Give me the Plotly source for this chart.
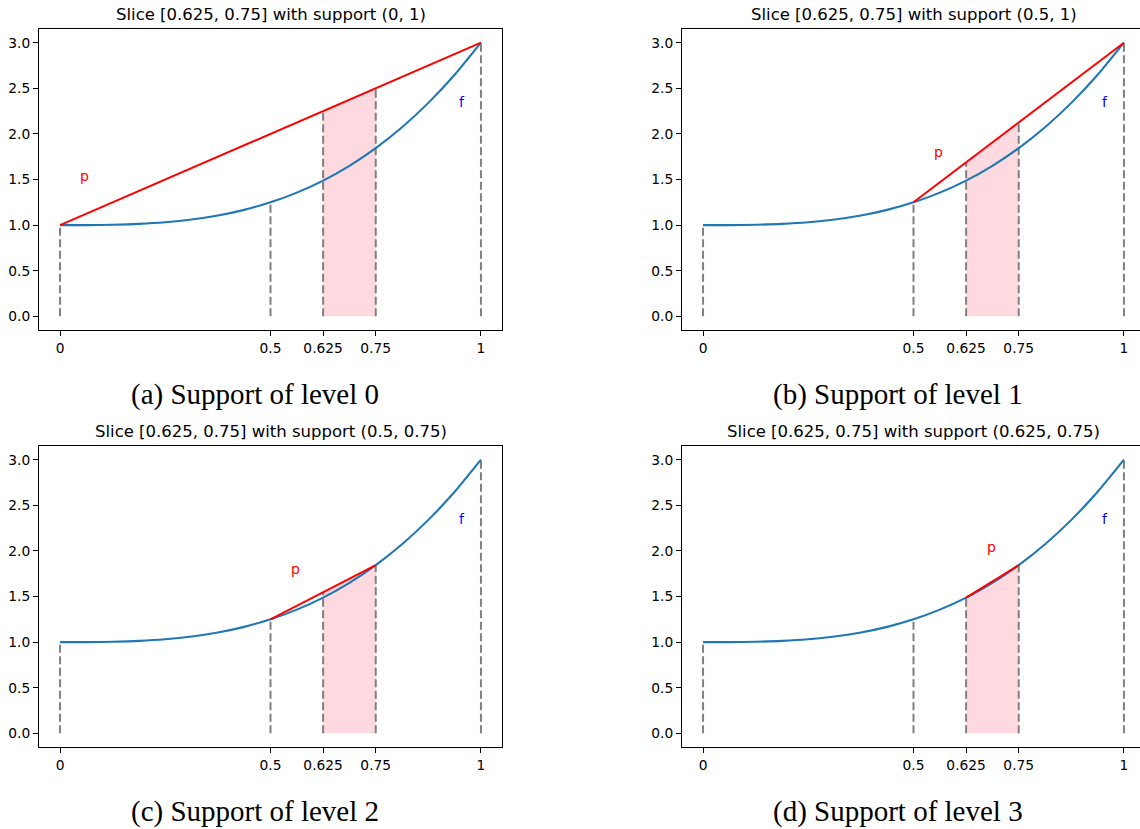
import plotly.graph_objects as go

W, H = 1140, 829

# sampled values of f on [0, 1]
knot_x = [0, 0.0625, 0.125, 0.1875, 0.25, 0.3125, 0.375, 0.4375, 0.5,
          0.5625, 0.625, 0.6875, 0.75, 0.8125, 0.875, 0.9375, 1]
f_vals = [1.000, 1.000, 1.004, 1.013, 1.031, 1.061, 1.105, 1.167, 1.250,
          1.356, 1.488, 1.650, 1.844, 2.073, 2.340, 2.648, 3.000]

# x ticks / marks
mark_x = [0, 0.5, 0.625, 0.75, 1]
mark_text = ["0", "0.5", "0.625", "0.75", "1"]
y_ticks = [0, 0.5, 1.0, 1.5, 2.0, 2.5, 3.0]

# the slice and the supports used at each level
slice_lo, slice_hi = 0.625, 0.75
supports = [(0, 1), (0.5, 1), (0.5, 0.75), (0.625, 0.75)]
support_f = [(1.0, 3.0), (1.25, 3.0), (1.25, 1.844), (1.488, 1.844)]
p_on_slice = [(2.25, 2.5), (1.6875, 2.125), (1.547, 1.844), (1.488, 1.844)]
f_on_marks = [1.0, 1.25, 3.0]  # f at 0, 0.5, 1

titles = ["Slice [0.625, 0.75] with support (0, 1)",
          "Slice [0.625, 0.75] with support (0.5, 1)",
          "Slice [0.625, 0.75] with support (0.5, 0.75)",
          "Slice [0.625, 0.75] with support (0.625, 0.75)"]
captions = ["(a) Support of level 0", "(b) Support of level 1",
            "(c) Support of level 2", "(d) Support of level 3"]
p_label_pos = [(0.059, 1.54), (0.56, 1.80), (0.56, 1.80), (0.686, 2.04)]
f_label_pos = (0.955, 2.35)

# panel boxes in pixels: (left, right, top, bottom)
boxes = [(39, 502, 29, 330), (682, 1145, 29, 330),
         (39, 502, 446, 747), (682, 1145, 446, 747)]
X_RANGE = (-0.05, 1.05)
Y_RANGE = (-0.15, 3.15)

fig = go.Figure()
layout = {}
annotations = []

for i in range(4):
    n = i + 1
    xa = "x" if n == 1 else f"x{n}"
    ya = "y" if n == 1 else f"y{n}"
    left, right, top, bottom = boxes[i]
    px_per_unit = (right - left) / (X_RANGE[1] - X_RANGE[0])
    vis_right = min(right, W)
    x_hi = X_RANGE[0] + (vis_right - left) / px_per_unit

    # shaded slice under p
    fig.add_trace(go.Scatter(
        x=[slice_lo, slice_hi], y=list(p_on_slice[i]), mode="none",
        fill="tozeroy", fillcolor="rgba(255,192,203,0.6)",
        xaxis=xa, yaxis=ya, hoverinfo="skip", showlegend=False))

    # dashed verticals at the marks
    heights = [f_on_marks[0], f_on_marks[1], p_on_slice[i][0],
               p_on_slice[i][1], f_on_marks[2]]
    dx, dy = [], []
    for xv, hv in zip(mark_x, heights):
        dx += [xv, xv, None]
        dy += [0, hv, None]
    fig.add_trace(go.Scatter(
        x=dx, y=dy, mode="lines",
        line=dict(color="gray", width=2, dash="8px,3.5px"),
        xaxis=xa, yaxis=ya, hoverinfo="skip", showlegend=False))

    # f
    fig.add_trace(go.Scatter(
        x=knot_x, y=f_vals, mode="lines",
        line=dict(color="#1f77b4", width=2.1, shape="spline", smoothing=0.6),
        xaxis=xa, yaxis=ya, showlegend=False))

    # p: secant over the support
    fig.add_trace(go.Scatter(
        x=list(supports[i]), y=list(support_f[i]), mode="lines",
        line=dict(color="red", width=2),
        xaxis=xa, yaxis=ya, showlegend=False))

    annotations.append(dict(x=p_label_pos[i][0], y=p_label_pos[i][1],
                            xref=xa, yref=ya, text="p", showarrow=False,
                            font=dict(color="red", size=14, family="DejaVu Sans"),
                            xanchor="center", yanchor="middle"))
    annotations.append(dict(x=f_label_pos[0], y=f_label_pos[1],
                            xref=xa, yref=ya, text="f", showarrow=False,
                            font=dict(color="blue", size=14, family="DejaVu Sans"),
                            xanchor="center", yanchor="middle"))

    # panel title and caption
    cx = (left + right) / 2
    annotations.append(dict(x=cx / W, y=1 - (top - 15) / H, xref="paper", yref="paper",
                            text=titles[i], showarrow=False,
                            font=dict(size=16.5, family="DejaVu Sans", color="black"),
                            xanchor="center", yanchor="middle"))
    annotations.append(dict(x=(cx - 15.5) / W, y=1 - (bottom + 64) / H,
                            xref="paper", yref="paper",
                            text=captions[i], showarrow=False,
                            font=dict(size=29, family="Liberation Serif", color="black"),
                            xanchor="center", yanchor="middle"))

    layout["xaxis" if n == 1 else f"xaxis{n}"] = dict(
        domain=[left / W, vis_right / W], anchor=ya,
        range=[X_RANGE[0], x_hi], tickvals=mark_x, ticktext=mark_text,
        showgrid=False, zeroline=False, showline=True, mirror=True,
        linecolor="black", linewidth=1, ticks="outside", ticklen=5,
        tickwidth=1, tickcolor="black",
        tickfont=dict(size=13.8, family="DejaVu Sans", color="black"))
    layout["yaxis" if n == 1 else f"yaxis{n}"] = dict(
        domain=[1 - bottom / H, 1 - top / H], anchor=xa,
        range=list(Y_RANGE), tickvals=y_ticks,
        ticktext=[f"{v:.1f}" for v in y_ticks],
        showgrid=False, zeroline=False, showline=True,
        mirror=(right <= W), linecolor="black", linewidth=1,
        ticks="outside", ticklen=5, tickwidth=1, tickcolor="black",
        tickfont=dict(size=13.8, family="DejaVu Sans", color="black"))

fig.update_layout(width=W, height=H, margin=dict(l=0, r=0, t=0, b=0),
                  plot_bgcolor="white", paper_bgcolor="white",
                  annotations=annotations, **layout)

fig.write_html("out.html")
